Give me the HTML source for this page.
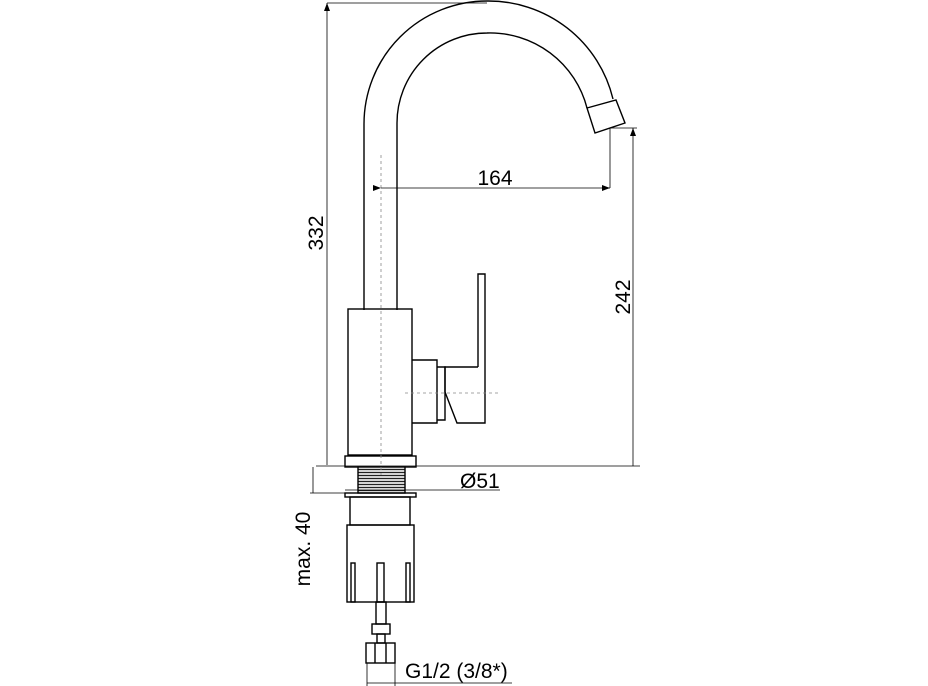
<!DOCTYPE html><html><head><style>body{margin:0;background:#fff}svg{display:block}</style></head><body>
<svg width="928" height="686" viewBox="0 0 928 686" xmlns="http://www.w3.org/2000/svg" font-family="Liberation Sans, sans-serif">
<defs><marker id="a" markerWidth="8" markerHeight="6" refX="8" refY="3" orient="auto" markerUnits="userSpaceOnUse"><path d="M0,0L8,3L0,6z" fill="#000"/></marker>
<pattern id="h" width="4" height="3" patternUnits="userSpaceOnUse"><rect width="4" height="3" fill="#fff"/><path d="M0,1.5L4,1.5" stroke="#222" stroke-width="1.4"/></pattern></defs>
<g fill="none" stroke="#000" stroke-width="1.4">
<path d="M364,310 L364,124 A123,123 0 0 1 487,1 A128,128 0 0 1 613,99"/>
<path d="M397,310 L397,123 A90,90 0 0 1 487,33 A100,100 0 0 1 587,108"/>
<path d="M587,108 L616,100 L625,123 L595,133 Z"/>
<rect x="348" y="309" width="64" height="146"/>
<path d="M412,360 L437,360 L437,423 L412,423"/>
<path d="M437,367 L445,367 L445,420 L437,420"/>
<path d="M478,367 L478,274 L485,274 L485,423 L457,423 L445,392 L445,367 L478,367"/>
<rect x="345" y="456" width="71" height="11"/>
<rect x="358" y="467" width="47" height="26" fill="url(#h)"/>
<rect x="345" y="493" width="71" height="4"/>
<rect x="350" y="497" width="60" height="28"/>
<rect x="347" y="525" width="67" height="77"/>
<rect x="351" y="563" width="4" height="39"/><rect x="377" y="563" width="7" height="39"/><rect x="406" y="563" width="4" height="39"/>
<rect x="376" y="602" width="10" height="22"/>
<rect x="372" y="624" width="18" height="10"/>
<rect x="377" y="634" width="8" height="9"/>
<rect x="366" y="643" width="29" height="20"/>
<path d="M375,643 L375,663 M386,643 L386,663"/>
</g>
<g stroke="#000" stroke-width="0.8" fill="none">
<path d="M381,155 L381,475 M405,393 L500,393" stroke-dasharray="3,3" stroke="#888"/>
<path d="M381,188 L610,188" marker-start="url(#a)" marker-end="url(#a)"/>
<path d="M610,128 L610,188 M610,128 L637,128 M327,3 L487,3 M316,466 L640,466"/>
<path d="M633,466 L633,128" marker-end="url(#a)"/>
<path d="M327,465 L327,3" marker-end="url(#a)"/>
<path d="M310,493 L345,493 M313,467 L313,493"/>
<path d="M345,490 L500,490"/>
<path d="M367,663 L367,686 M395,663 L395,686 M367,683 L512,683"/>
</g>
<g font-size="21" fill="#000">
<text x="495" y="185" text-anchor="middle">164</text>
<text x="460" y="488">Ø51</text>
<text x="405" y="678">G1/2 (3/8*)</text>
<text transform="translate(323,233) rotate(-90)" text-anchor="middle">332</text>
<text transform="translate(630,297) rotate(-90)" text-anchor="middle">242</text>
<text transform="translate(310,549) rotate(-90)" text-anchor="middle">max. 40</text>
</g>
</svg></body></html>
